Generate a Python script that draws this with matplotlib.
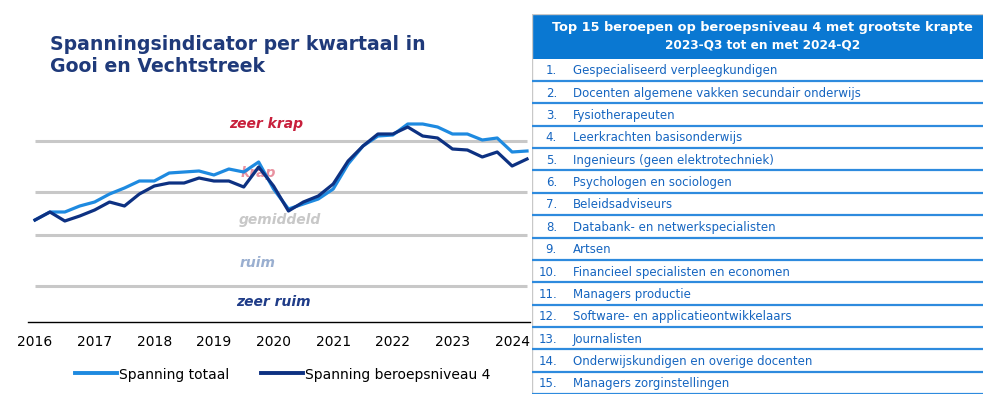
import numpy as np
import matplotlib.pyplot as plt
from matplotlib.lines import Line2D

#-------------------------------------------------------------------
# data
#-------------------------------------------------------------------
years = [2016, 2017, 2018, 2019, 2020, 2021, 2022, 2023, 2024]

# quarterly values, 2016-Q1 .. 2024-Q2
spanning_totaal = [10.2, 11.0, 11.0, 11.6, 12.0, 12.8, 13.4, 14.1, 14.1, 14.9,
                   15.0, 15.1, 14.7, 15.3, 15.0, 16.0, 13.3, 11.3, 11.8, 12.3,
                   13.3, 15.8, 17.6, 18.6, 18.7, 19.8, 19.8, 19.5, 18.8, 18.8,
                   18.2, 18.4, 17.0, 17.1]
spanning_niveau4 = [10.2, 11.0, 10.1, 10.6, 11.2, 12.0, 11.6, 12.8, 13.6, 13.9,
                    13.9, 14.4, 14.1, 14.1, 13.5, 15.5, 13.6, 11.1, 12.0, 12.6,
                    13.8, 16.1, 17.6, 18.8, 18.8, 19.5, 18.6, 18.4, 17.3, 17.2,
                    16.5, 17.0, 15.6, 16.3]

grenzen = [3.6, 8.7, 13.0, 18.1]
klassen = ['zeer krap', 'krap', 'gemiddeld', 'ruim', 'zeer ruim']
klasse_pos = [(15.5, 19.9), (15.0, 15.0), (16.4, 10.3), (14.9, 6.0), (16.0, 2.1)]
klasse_kleur = ['#C8203C', '#E891A0', '#C8C8C8', '#9AAFD0', '#1F3C88']

tabel_titel = ['Top 15 beroepen op beroepsniveau 4 met grootste krapte',
               '2023-Q3 tot en met 2024-Q2']
beroepen = ['Gespecialiseerd verpleegkundigen',
            'Docenten algemene vakken secundair onderwijs',
            'Fysiotherapeuten',
            'Leerkrachten basisonderwijs',
            'Ingenieurs (geen elektrotechniek)',
            'Psychologen en sociologen',
            'Beleidsadviseurs',
            'Databank- en netwerkspecialisten',
            'Artsen',
            'Financieel specialisten en economen',
            'Managers productie',
            'Software- en applicatieontwikkelaars',
            'Journalisten',
            'Onderwijskundigen en overige docenten',
            'Managers zorginstellingen']

LICHT = '#1E8AE0'
DONKER = '#0D3182'
NAVY = '#1F3A7A'

#-------------------------------------------------------------------
fig = plt.figure(figsize=(9.83, 4.02), dpi=100)
W, H = 983, 402

# chart
ax = fig.add_axes([28 / W, (H - 323) / H, 502 / W, 223 / H])
x = np.arange(len(spanning_totaal))
ax.hlines(grenzen, 0, len(x) - 1, color='#C8C8C8', lw=2.2, zorder=1)
ax.plot(x, spanning_totaal, color=LICHT, lw=2.3, zorder=3)
ax.plot(x, spanning_niveau4, color=DONKER, lw=2.3, zorder=4)

for naam, (kx, ky), kl in zip(klassen, klasse_pos, klasse_kleur):
    ax.text(kx, ky, naam, color=kl, fontsize=10, fontweight='bold',
            style='italic', ha='center', va='center', zorder=2)

ax.set_xlim(-0.47, len(x) - 1 + 0.2)
ax.set_ylim(0, 22.3)
ax.set_xticks(np.arange(0, len(x), 4))
ax.set_xticklabels([str(y) for y in years], fontsize=10)
ax.set_yticks([])
ax.tick_params(axis='x', length=0, pad=9)
for s in ['top', 'right', 'left']:
    ax.spines[s].set_visible(False)
ax.spines['bottom'].set_linewidth(1.0)

fig.text(50 / W, 1 - 44 / H, 'Spanningsindicator per kwartaal in',
         fontsize=13.6, fontweight='bold', color=NAVY, va='center')
fig.text(50 / W, 1 - 66 / H, 'Gooi en Vechtstreek',
         fontsize=13.6, fontweight='bold', color=NAVY, va='center')

handles = [Line2D([], [], color=LICHT, lw=2.8),
           Line2D([], [], color=DONKER, lw=2.8)]
fig.legend(handles, ['Spanning totaal', 'Spanning beroepsniveau 4'],
           loc='center', bbox_to_anchor=(283 / W, 1 - 375 / H), ncol=2,
           frameon=False, fontsize=10, handlelength=3.0, handletextpad=0.15,
           columnspacing=2.3)

#-------------------------------------------------------------------
# table
tab = fig.add_axes([532 / W, (H - 395) / H, 470 / W, 380 / H])
tab.set_xlim(0, 470)
tab.set_ylim(len(beroepen) + 2, 0)
tab.axis('off')

tab.add_patch(plt.Rectangle((0, 0), 470, 2, facecolor='#0A78D2', edgecolor='none'))
tab.text(20, 0.55, tabel_titel[0], color='white', fontsize=9.3, fontweight='bold',
         ha='left', va='center')
tab.text(231, 1.35, tabel_titel[1], color='white', fontsize=8.7, fontweight='bold',
         ha='center', va='center')
tab.plot([0, 0], [0, len(beroepen) + 2], color='#C8C8C8', lw=1)
tab.plot([0, 470], [0, 0], color='#C8C8C8', lw=1)

for i, b in enumerate(beroepen):
    yc = 2 + i + 0.5
    tab.text(25, yc, f'{i + 1}.', color='#1565C0', fontsize=8.5,
             ha='right', va='center')
    tab.text(41, yc, b, color='#1565C0', fontsize=8.5, ha='left', va='center')
    tab.plot([0, 470], [3 + i, 3 + i], color='#2E8BDE', lw=1.6)

fig.savefig('out.png', dpi=100)
